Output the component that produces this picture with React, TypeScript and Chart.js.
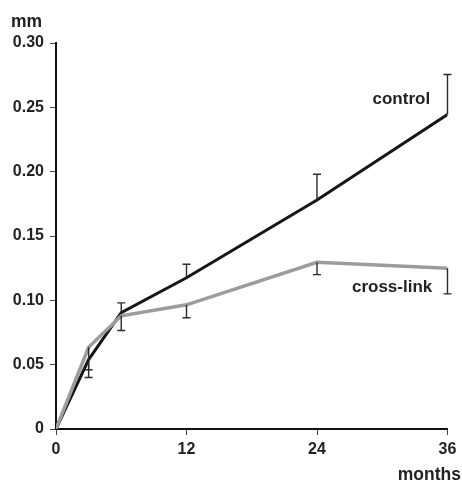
import React, { useEffect, useRef } from "react";
import { Chart, registerables } from "chart.js";

Chart.register(...registerables);

const months = [0, 3, 6, 12, 24, 36];
const controlValues = [0, 0.054, 0.0905, 0.1175, 0.178, 0.2445];
const crossLinkValues = [0, 0.0635, 0.088, 0.0965, 0.1295, 0.125];
// one-sided error bars: signed offset from the mean (null = none)
const controlErrors = [null, -0.014, 0.0075, 0.0105, 0.02, 0.031];
const crossLinkErrors = [null, -0.0175, -0.0115, -0.01, -0.0095, -0.02];
const xTickValues = [0, 12, 24, 36];
const yTickValues = [0, 0.05, 0.1, 0.15, 0.2, 0.25, 0.3];
const seriesNames = ["control", "cross-link"];
const yUnit = "mm";
const xUnit = "months";

const FONT = "'Liberation Sans', Arial, sans-serif";
const TEXT = "#222";

export default function App() {
  const ref = useRef<HTMLCanvasElement | null>(null);
  useEffect(() => {
    if (!ref.current) return;
    const errorSets = [controlErrors, crossLinkErrors];
    const labelAnchors = [
      { x: 34.4, y: 0.256 },
      { x: 34.6, y: 0.110 },
    ];
    const overlay = {
      id: "overlay",
      afterDatasetsDraw(chart: any) {
        const ctx = chart.ctx;
        const xs = chart.scales.x;
        const ys = chart.scales.y;
        ctx.save();
        ctx.strokeStyle = "#2a2a2a";
        ctx.lineWidth = 1.4;
        const values = [controlValues, crossLinkValues];
        errorSets.forEach((errs, si) => {
          errs.forEach((e, i) => {
            if (e === null) return;
            const px = xs.getPixelForValue(months[i]);
            const y0 = ys.getPixelForValue(values[si][i]);
            const y1 = ys.getPixelForValue(values[si][i] + e);
            ctx.beginPath();
            ctx.moveTo(px, y0);
            ctx.lineTo(px, y1);
            ctx.moveTo(px - 4, y1);
            ctx.lineTo(px + 4, y1);
            ctx.stroke();
          });
        });
        ctx.restore();
      },
      afterDraw(chart: any) {
        const ctx = chart.ctx;
        const xs = chart.scales.x;
        const ys = chart.scales.y;
        ctx.save();
        ctx.fillStyle = TEXT;
        ctx.font = `bold 17px ${FONT}`;
        ctx.textAlign = "right";
        ctx.textBaseline = "middle";
        seriesNames.forEach((n, i) => {
          ctx.fillText(n, xs.getPixelForValue(labelAnchors[i].x), ys.getPixelForValue(labelAnchors[i].y));
        });
        ctx.font = `bold 17.5px ${FONT}`;
        ctx.textAlign = "left";
        ctx.textBaseline = "alphabetic";
        ctx.fillText(yUnit, 11, 27);
        ctx.textAlign = "right";
        ctx.fillText(xUnit, 461, 480);
        ctx.restore();
      },
    };
    const chart = new Chart(ref.current, {
      type: "line",
      data: {
        datasets: [
          {
            label: seriesNames[1],
            data: months.map((m, i) => ({ x: m, y: crossLinkValues[i] })),
            borderColor: "#9c9c9c",
            borderWidth: 3.5,
            pointRadius: 0,
            tension: 0,
            fill: false,
          },
          {
            label: seriesNames[0],
            data: months.map((m, i) => ({ x: m, y: controlValues[i] })),
            borderColor: "#161616",
            borderWidth: 3,
            pointRadius: 0,
            tension: 0,
            fill: false,
          },
        ],
      },
      options: {
        responsive: false,
        animation: false,
        layout: { padding: { top: 43, right: 14.5, left: 0, bottom: 0 } },
        plugins: { legend: { display: false }, tooltip: { enabled: false } },
        scales: {
          x: {
            type: "linear",
            min: 0,
            max: 36,
            afterBuildTicks: (s: any) => {
              s.ticks = xTickValues.map((v) => ({ value: v }));
            },
            afterFit: (s: any) => {
              s.height = 52;
            },
            border: { color: "#111", width: 2 },
            grid: { drawOnChartArea: false, drawTicks: true, tickLength: 6, color: "#444", lineWidth: 1 },
            ticks: {
              color: TEXT,
              font: { family: FONT, size: 16, weight: "bold" },
              padding: 5,
              maxRotation: 0,
              callback: (v: any) => String(v),
            },
          },
          y: {
            type: "linear",
            min: 0,
            max: 0.3,
            afterBuildTicks: (s: any) => {
              s.ticks = yTickValues.map((v) => ({ value: v }));
            },
            afterFit: (s: any) => {
              s.width = 56;
            },
            border: { color: "#111", width: 2 },
            grid: { drawOnChartArea: false, drawTicks: true, tickLength: 6, color: "#444", lineWidth: 1 },
            ticks: {
              color: TEXT,
              font: { family: FONT, size: 16, weight: "bold" },
              padding: 6,
              callback: (v: any) => (Number(v) === 0 ? "0" : Number(v).toFixed(2)),
            },
          },
        },
      },
      plugins: [overlay],
    });
    return () => chart.destroy();
  }, []);
  return (
    <div style={{ position: "fixed", left: 0, top: 0, width: 462, height: 481, background: "#fff" }}>
      <canvas ref={ref} width={462} height={481} />
    </div>
  );
}
